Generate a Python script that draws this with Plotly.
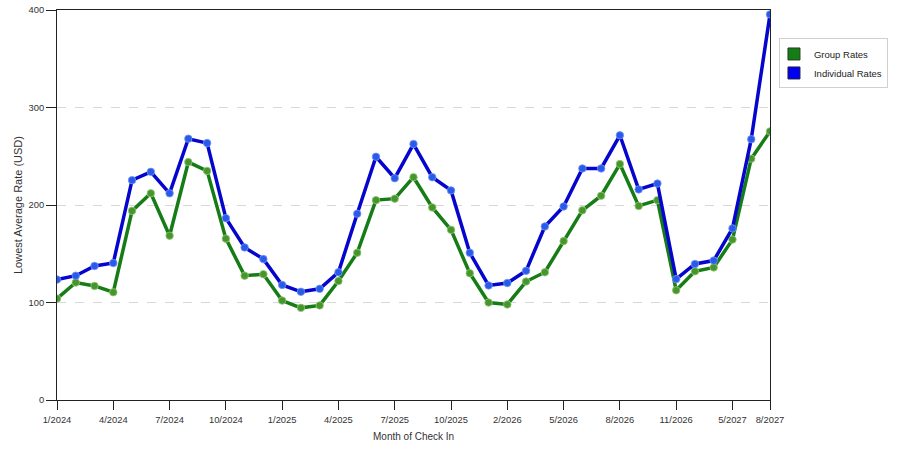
import plotly.graph_objects as go

categories = [
    "1/2024", "2/2024", "3/2024", "4/2024", "5/2024", "6/2024", "7/2024", "8/2024",
    "9/2024", "10/2024", "11/2024", "12/2024", "1/2025", "2/2025", "3/2025", "4/2025",
    "5/2025", "6/2025", "7/2025", "8/2025", "9/2025", "10/2025", "11/2025", "1/2026",
    "2/2026", "3/2026", "4/2026", "5/2026", "6/2026", "7/2026", "8/2026", "9/2026",
    "10/2026", "11/2026", "1/2027", "3/2027", "5/2027", "6/2027", "8/2027",
]
tick_labels = ["1/2024", "4/2024", "7/2024", "10/2024", "1/2025", "4/2025", "7/2025",
               "10/2025", "2/2026", "5/2026", "8/2026", "11/2026", "5/2027", "8/2027"]
y_ticks = [0, 100, 200, 300, 400]

group_rates = [
    104, 120.5, 117, 110.5, 194, 212, 168.5, 244, 235, 165.5,
    127.5, 129, 102, 94.5, 97, 122, 151, 205, 206.5, 228.5,
    197.5, 174.5, 130, 100, 98, 121.5, 131, 163, 194.5, 209.5,
    242, 199, 205, 112.5, 132, 136, 164.5, 247.5, 275.5,
]
individual_rates = [
    123.5, 127.5, 137.5, 140.5, 225.5, 234, 212, 268, 263.5, 186.5,
    156.5, 144.5, 118, 111, 114, 131, 191, 249.5, 227.5, 262.5,
    228.5, 215, 151, 117.5, 120, 132.5, 178, 198.5, 237.5, 237.5,
    271.5, 216, 222, 124, 139.5, 143, 176, 267.5, 395.5,
]

GREEN_LINE = "rgb(22,125,22)"
GREEN_MARK = "rgb(70,150,45)"
BLUE_LINE = "rgb(5,5,205)"
BLUE_MARK = "rgb(40,90,235)"

fig = go.Figure()
fig.add_trace(go.Scatter(
    x=categories, y=group_rates, mode="lines+markers", showlegend=False,
    line=dict(color=GREEN_LINE, width=3.5),
    marker=dict(color=GREEN_MARK, size=7.5, line=dict(color="rgba(150,200,120,0.8)", width=1)),
))
fig.add_trace(go.Scatter(
    x=categories, y=individual_rates, mode="lines+markers", showlegend=False,
    line=dict(color=BLUE_LINE, width=3.5),
    marker=dict(color=BLUE_MARK, size=7.5, line=dict(color="rgba(120,150,240,0.8)", width=1)),
))
# legend entries
fig.add_trace(go.Scatter(
    x=[None], y=[None], mode="markers", name="Group Rates",
    marker=dict(symbol="square", size=12, color="rgb(20,125,20)", line=dict(color="rgb(40,60,40)", width=1)),
))
fig.add_trace(go.Scatter(
    x=[None], y=[None], mode="markers", name="Individual Rates",
    marker=dict(symbol="square", size=12, color="rgb(0,0,240)", line=dict(color="rgb(30,30,80)", width=1)),
))

FONT = "Liberation Sans"
fig.update_layout(
    width=900, height=450,
    margin=dict(l=57, r=130, t=4, b=50),
    paper_bgcolor="white", plot_bgcolor="white",
    font=dict(family=FONT, size=9, color="#333"),
    hovermode=False,
    legend=dict(
        x=1.0126, y=0.927, xanchor="left", yanchor="top",
        bordercolor="#d0d0d0", borderwidth=1, bgcolor="white",
        font=dict(family=FONT, size=9.5, color="#222"),
        itemwidth=30, tracegroupgap=0, indentation=-6,
    ),
    xaxis=dict(
        type="category", categoryorder="array", categoryarray=categories,
        range=[0, len(categories) - 1],
        tickmode="array", tickvals=tick_labels, ticktext=tick_labels,
        showgrid=False, zeroline=False,
        showline=True, linecolor="#222", linewidth=1, mirror=True,
        ticks="outside", ticklen=9, tickcolor="#222", tickwidth=1,
        tickfont=dict(family=FONT, size=9.4, color="#333"),
        ticklabeloverflow="allow", ticklabelstandoff=2,
    ),
    yaxis=dict(
        range=[0, 400], tickvals=y_ticks,
        showgrid=True, gridcolor="#d8d8d8", griddash="dash", gridwidth=1,
        zeroline=False,
        showline=True, linecolor="#222", linewidth=1, mirror=True,
        ticks="outside", ticklen=10, tickcolor="#222", tickwidth=1,
        tickfont=dict(family=FONT, size=9.4, color="#333"),
        ticklabeloverflow="allow",
    ),
    annotations=[
        dict(text="Lowest Average Rate (USD)", xref="paper", yref="paper",
             x=-0.0547, y=0.5, xanchor="center", yanchor="middle", textangle=-90,
             showarrow=False, font=dict(family=FONT, size=11, color="#333")),
        dict(text="Month of Check In", xref="paper", yref="paper",
             x=0.5, y=-0.094, xanchor="center", yanchor="middle",
             showarrow=False, font=dict(family=FONT, size=10, color="#333")),
    ],
)

fig.write_html("out.html", config={"displayModeBar": False},
               post_script="document.body.style.margin='0';")
